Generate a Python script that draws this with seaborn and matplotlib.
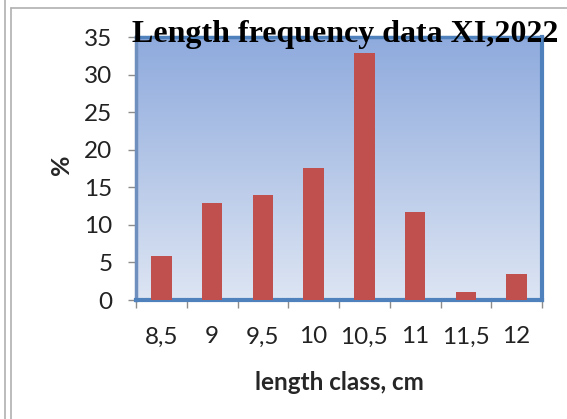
import numpy as np
import pandas as pd
import matplotlib
matplotlib.use("Agg")
import matplotlib.pyplot as plt
import seaborn as sns
from matplotlib.colors import LinearSegmentedColormap
from matplotlib.lines import Line2D

categories = ["8,5", "9", "9,5", "10", "10,5", "11", "11,5", "12"]
values = [5.8, 12.9, 14.0, 17.6, 32.9, 11.7, 1.1, 3.5]
y_ticks = [0, 5, 10, 15, 20, 25, 30, 35]

sns.set_theme(style="white")
plt.rcParams['font.family'] = ['Lato', 'DejaVu Sans']

fig = plt.figure(figsize=(5.67, 4.19), dpi=100)
ax = fig.add_axes([136/567, 1-300/419, (542-136)/567, (300-37)/419])

df = pd.DataFrame({"cls": categories, "pct": values})
sns.barplot(data=df, x="cls", y="pct", order=categories, color="#c0504d",
            width=0.4, saturation=1, ax=ax, zorder=3, edgecolor="none")

# gradient background
cmap = LinearSegmentedColormap.from_list("bg", ["#dde5f3", "#8eaadd"])
grad = np.linspace(0, 1, 256).reshape(-1, 1)
ax.imshow(grad, aspect="auto", cmap=cmap, origin="lower",
          extent=[-0.5, len(categories) - 0.5, 0, 35], zorder=0)
ax.set_xlim(-0.5, len(categories) - 0.5)
ax.set_ylim(0, 35)

ax.set_yticks(y_ticks)
ax.set_yticklabels([str(t) for t in y_ticks], fontsize=17.5, color="#222222")
ax.tick_params(axis="y", direction="out", length=6, width=1, color="#8c8c8c", pad=11, left=True)
ax.set_xticks(range(len(categories)))
ax.set_xticklabels(categories, fontsize=17.5, color="#222222")
ax.set_xticks(np.arange(-0.5, len(categories), 1.0), minor=True)
ax.tick_params(axis="x", which="major", length=0, pad=19)
ax.tick_params(axis="x", which="minor", direction="out", length=6, width=1, color="#8c8c8c", bottom=True)

for side in ["right", "top", "bottom"]:
    ax.spines[side].set_visible(True)
    ax.spines[side].set_color("#4f81bd")
ax.spines["right"].set_linewidth(3)
ax.spines["top"].set_linewidth(2.5)
ax.spines["bottom"].set_linewidth(3)
ax.spines["left"].set_color("#6f8fbf")
ax.spines["left"].set_linewidth(2.5)

ax.set_xlabel("length class, cm", fontsize=17.5, fontweight="bold")
ax.xaxis.label.set_va("center")
ax.xaxis.set_label_coords(0.5, (300-382)/263)
ax.set_ylabel("%", fontsize=18, fontweight="bold")
ax.yaxis.label.set_va("center")
ax.yaxis.set_label_coords((62-136)/406, (300-165)/263)

fig.text(345/567, 1-42/419, "Length frequency data XI,2022", ha="center", va="baseline",
         fontsize=23, fontweight="bold", family="Liberation Serif", color="black", zorder=10)

# outer frame lines
fig.add_artist(Line2D([5/567, 5/567], [0, 1], color="#b0b0b0", lw=1.2))
fig.add_artist(Line2D([11/567, 11/567], [0, 1-8/419], color="#b0b0b0", lw=1.2))
fig.add_artist(Line2D([11/567, 1], [1-8/419, 1-8/419], color="#b0b0b0", lw=1.2))

fig.savefig("out.png", dpi=100)
